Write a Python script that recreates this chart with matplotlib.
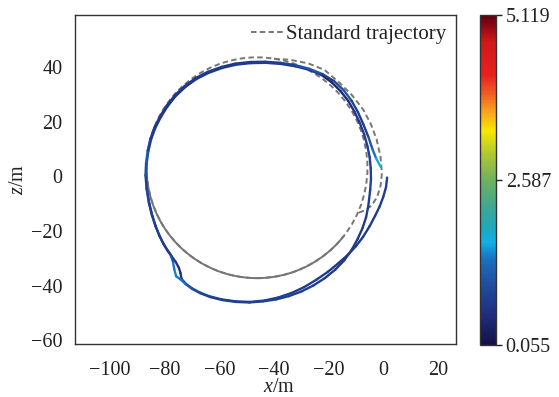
import numpy as np
import matplotlib
matplotlib.use("Agg")
import matplotlib.pyplot as plt
from matplotlib.collections import LineCollection
from matplotlib.colors import LinearSegmentedColormap, Normalize
from matplotlib.patches import Circle, Arc
from matplotlib.cm import ScalarMappable

plt.rcParams['font.family'] = ['Liberation Serif', 'DejaVu Serif']
plt.rcParams['mathtext.fontset'] = 'custom'
plt.rcParams['mathtext.rm'] = 'Liberation Serif'
plt.rcParams['mathtext.it'] = 'Liberation Serif:italic'
plt.rcParams['axes.unicode_minus'] = True

# ---- data ----
xticks = [-100, -80, -60, -40, -20, 0, 20]
yticks = [-60, -40, -20, 0, 20, 40]
cbar_ticks = [0.055, 2.587, 5.119]
cbar_labels = ['0.055', '2.587', '5.119']
err_min, err_max = 0.055, 5.119

# standard trajectory: circle (centre, radius) + offset lap on the right side
std_center = (-46.2, 3.1)
std_radius = 40.4
std_bulge_x = [-40.0, -34.0, -27.5, -21.5, -15.8, -11.3, -7.3, -4.5, -2.4, -1.0,
               -0.5, -1.0, -2.2, -4.3, -7.0, -9.4]
std_bulge_z = [43.0, 42.6, 41.3, 38.9, 34.0, 29.5, 24.3, 19.0, 13.3, 7.0,
               1.0, -3.5, -7.5, -10.8, -12.6, -13.5]

# actual trajectory, first lap (x, z, tracking error)
lap1_x = [1.4, 1.0, 0.0, -1.3, -3.0, -5.0, -7.4, -10.0, -13.0, -16.5, -20.3, -24.5,
          -29.0, -33.5, -38.5, -43.5, -48.8, -54.0, -59.0, -63.4, -67.0, -70.0, -72.3,
          -73.8, -74.2, -74.8, -76.0, -77.5, -78.7, -80.3, -81.8, -83.2, -84.5, -85.6,
          -86.4, -86.8, -86.6, -86.0, -85.0, -83.5, -81.5, -79.0, -76.0, -72.5, -68.5,
          -64.0, -59.0, -54.0, -48.5, -43.0, -37.5, -32.0, -27.0, -22.5, -18.8, -15.5,
          -12.8, -10.5, -8.6, -7.0, -5.8, -5.0, -4.6, -4.5, -4.8]
lap1_z = [-0.5, -4.0, -7.5, -11.0, -14.5, -18.3, -22.2, -25.6, -28.8, -31.9, -35.0, -37.9,
          -40.6, -42.7, -44.4, -45.5, -46.0, -45.8, -45.1, -44.0, -42.6, -41.0, -39.3,
          -37.6, -35.5, -33.5, -31.3, -29.2, -27.6, -25.0, -22.0, -18.5, -14.5, -10.0,
          -5.0, 0.0, 4.5, 9.0, 13.3, 17.5, 21.5, 25.5, 29.3, 32.6, 35.5,
          37.8, 39.6, 40.8, 41.4, 41.5, 41.1, 40.2, 38.9, 37.0, 34.3, 31.0,
          27.5, 23.5, 19.5, 15.3, 11.0, 7.0, 3.0, -1.0, -5.0]
lap1_err = [0.8, 0.8, 0.75, 0.75, 0.75, 0.7, 0.7, 0.7, 0.7, 0.7, 0.75, 0.75,
            0.75, 0.8, 0.8, 0.8, 0.8, 0.75, 0.8, 1.1, 1.4, 1.0, 0.8,
            0.7, 0.6, 0.55, 0.6, 0.7, 0.75, 0.8, 0.9, 1.1, 0.9, 0.8,
            1.2, 1.5, 1.1, 0.8, 0.7, 0.65, 0.6, 0.6, 0.55, 0.6, 0.65,
            0.7, 0.7, 0.7, 0.7, 0.7, 0.7, 0.65, 0.6, 0.5, 0.4, 0.45,
            0.5, 0.6, 0.7, 0.75, 0.8, 0.8, 0.8, 0.8, 0.8]

# actual trajectory, second lap
lap2_x = [-5.5, -6.3, -7.6, -9.4, -11.6, -14.3, -17.6, -21.4, -25.6, -30.0, -34.6, -39.3,
          -44.0, -49.0, -54.0, -59.0, -63.4, -67.0, -70.0, -72.3, -74.0, -75.8, -76.5,
          -77.0, -78.0, -78.9, -80.5, -82.0, -83.4, -84.7, -85.8, -86.6, -87.0, -86.8,
          -86.2, -85.2, -83.7, -81.7, -79.2, -76.2, -72.7, -68.7, -64.2, -59.2, -54.2,
          -48.7, -43.2, -37.6, -32.0, -27.0, -22.3, -18.0, -14.5, -11.6, -9.3, -7.3,
          -5.5, -4.0, -2.6, -1.0]
lap2_z = [-11.0, -15.0, -19.0, -23.0, -27.0, -30.8, -34.2, -37.3, -40.0, -42.2, -43.9, -45.1,
          -45.8, -46.2, -46.0, -45.3, -44.2, -42.8, -41.2, -39.5, -37.9, -36.6, -34.0,
          -31.0, -28.4, -27.2, -24.6, -21.6, -18.1, -14.1, -9.6, -4.6, 0.4, 4.9,
          9.4, 13.7, 17.9, 21.9, 25.9, 29.7, 33.0, 35.9, 38.2, 40.0, 41.2,
          41.8, 41.9, 41.5, 40.6, 39.3, 37.4, 34.8, 31.5, 27.6, 23.5, 19.0,
          14.5, 10.0, 6.5, 3.5]
lap2_err = [0.75, 0.75, 0.7, 0.7, 0.7, 0.7, 0.7, 0.7, 0.75, 0.75, 0.8, 0.8,
            0.8, 0.8, 0.8, 0.8, 0.8, 0.85, 1.0, 1.2, 1.5, 1.3, 1.6,
            1.2, 0.8, 0.75, 0.75, 0.8, 0.8, 0.75, 0.8, 0.9, 0.6, 1.4,
            0.9, 0.75, 0.7, 0.7, 0.7, 0.7, 0.7, 0.7, 0.7, 0.7, 0.7,
            0.7, 0.75, 0.8, 0.85, 1.3, 0.9, 0.6, 1.3, 0.9, 0.75, 0.7,
            0.9, 1.2, 1.5, 1.7]

cmap = LinearSegmentedColormap.from_list("err", [
    (0.0, '#121244'), (0.08, '#1e2a78'), (0.19, '#2050a0'), (0.26, '#1a70c0'),
    (0.31, '#10b0e8'), (0.36, '#20a8b8'), (0.42, '#40a890'), (0.5, '#70b060'),
    (0.58, '#b0c830'), (0.65, '#f8e800'), (0.71, '#f8a020'), (0.76, '#f06020'),
    (0.82, '#e82020'), (0.92, '#d01818'), (1.0, '#600010')])

# ---- figure ----
W, H = 559, 397
fig = plt.figure(figsize=(W / 100, H / 100), dpi=100)
ax = fig.add_axes([75 / W, (H - 344) / H, 381 / W, 329 / H])
cax = fig.add_axes([479.5 / W, (H - 345) / H, 16.5 / W, 330 / H])

gray = '#767676'
dash = (0, (2.8, 1.7))
ax.add_patch(Circle(std_center, std_radius, fill=False, ec=gray, lw=1.4,
                    ls=dash, zorder=2))
ax.add_patch(Arc(std_center, 2 * std_radius, 2 * std_radius, theta1=180, theta2=322,
                 ec=gray, lw=1.4, zorder=2))
ax.plot(std_bulge_x, std_bulge_z, color=gray, lw=1.4, ls=dash, zorder=2,
        label='Standard trajectory')

norm = Normalize(err_min, err_max)
traj_x = np.array(lap1_x + lap2_x)
traj_z = np.array(lap1_z + lap2_z)
errs = np.array(lap1_err + lap2_err)
pts = np.column_stack([traj_x, traj_z])
segs = np.stack([pts[:-1], pts[1:]], axis=1)
seg_err = 0.5 * (errs[:-1] + errs[1:])
lc = LineCollection(segs, cmap=cmap, norm=norm, linewidths=1.7, capstyle='round',
                    joinstyle='round', zorder=3)
lc.set_array(seg_err)
ax.add_collection(lc)

ax.set_xlim(-112.8, 26.6)
ax.set_ylim(-61.4, 59.0)
ax.set_xticks(xticks)
ax.set_yticks(yticks)
ax.tick_params(length=0, labelsize=14.5, colors='#222222')
ax.tick_params(axis='y', pad=9)
ax.tick_params(axis='x', pad=12)
for s in ax.spines.values():
    s.set_color('#333333')
    s.set_linewidth(1.0)
ax.set_xlabel(r'$x$/m', fontsize=14.5, color='#222222', labelpad=-1, x=0.535)
ax.set_ylabel(r'$z$/m', fontsize=14.5, color='#222222', labelpad=2)

leg = ax.legend(loc='upper right', frameon=False, fontsize=15, handlelength=1.6,
                handletextpad=0.1, borderaxespad=0.2, borderpad=0.25)
for t in leg.get_texts():
    t.set_color('#222222')

sm = ScalarMappable(norm=norm, cmap=cmap)
cb = fig.colorbar(sm, cax=cax, ticks=cbar_ticks)
cb.ax.set_yticklabels(cbar_labels)
cb.ax.tick_params(labelsize=14.5, colors='#222222', length=4, width=1, pad=3)
cb.outline.set_edgecolor('#333333')
cb.outline.set_linewidth(1.0)

fig.savefig('out.png', dpi=100)
